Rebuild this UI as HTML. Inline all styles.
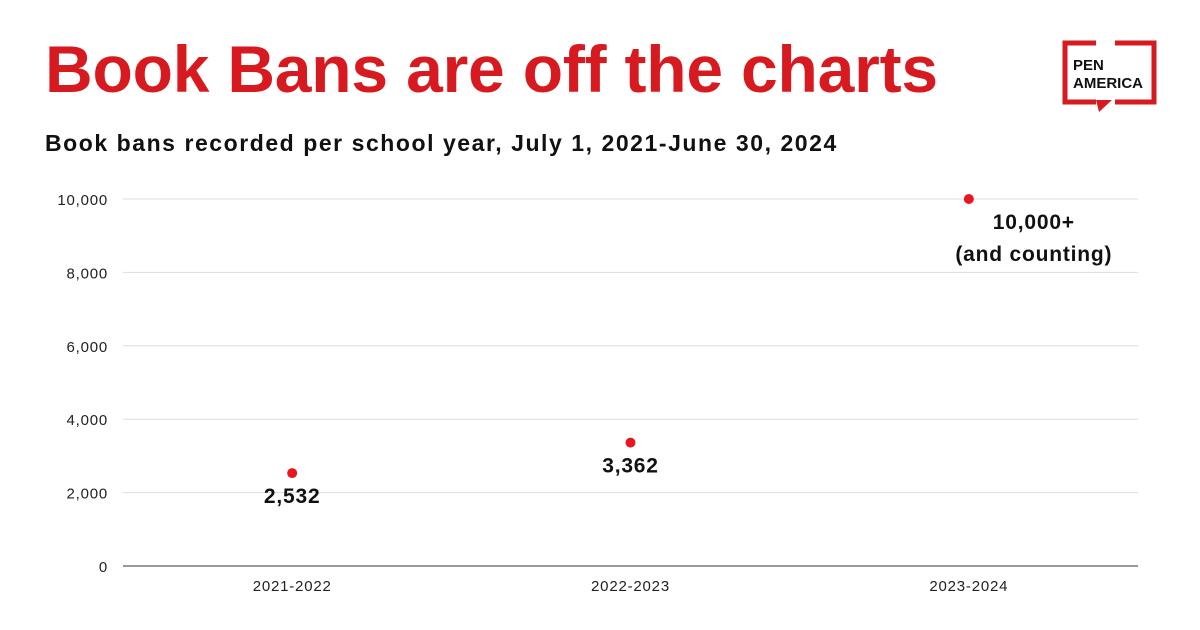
<!DOCTYPE html>
<html><head><meta charset="utf-8"><style>
body{margin:0;width:1200px;height:630px;background:#fff;font-family:"Liberation Sans",sans-serif;overflow:hidden;position:relative}
#title{position:absolute;left:45px;top:36px;font-size:66px;font-weight:bold;color:#d71920;letter-spacing:-0.2px;margin:0;line-height:1}
#sub{position:absolute;left:45px;top:130px;font-size:23px;font-weight:bold;color:#111;margin:0;letter-spacing:1.55px}
svg{position:absolute;left:0;top:0}
</style></head><body>
<h1 id="title">Book Bans are off the charts</h1>
<div id="sub">Book bans recorded per school year, July 1, 2021-June 30, 2024</div>
<svg width="1200" height="630" id="chart">
<g>
<path d="M1096 43 H1065 V102 H1096 M1115 102 H1154 V43 H1115" fill="none" stroke="#d71920" stroke-width="5"/>
<path d="M1096 100 L1099 112 L1112 100 Z" fill="#d71920"/>
<text x="1073" y="70" font-size="15" font-weight="bold" fill="#111">PEN</text>
<text x="1073" y="88" font-size="15" font-weight="bold" fill="#111">AMERICA</text>
</g>
</svg>
<script>
const categories=["2021-2022","2022-2023","2023-2024"];
const values=[2532,3362,10000];
const labels=["2,532","3,362","10,000+|(and counting)"];
const ticks=[0,2000,4000,6000,8000,10000];
const tickLabels=["0","2,000","4,000","6,000","8,000","10,000"];
const svg=document.getElementById('chart');const NS="http://www.w3.org/2000/svg";
const x0=123,x1=1138,yb=566,yt=199;
const y=v=>yb-(v/10000)*(yb-yt);
const bw=(x1-x0)/categories.length;
const x=i=>x0+bw*(i+0.5);
function mk(t,a){const e=document.createElementNS(NS,t);for(const k in a)e.setAttribute(k,a[k]);svg.appendChild(e);return e;}
ticks.forEach((t,i)=>{
const l=mk('line',{x1:x0,x2:x1,y1:y(t),y2:y(t),stroke:t===0?'#999':'#ddd','stroke-width':t===0?2:1});


const tx=mk('text',{x:108,y:y(t)+6,'text-anchor':'end','font-size':15,fill:'#222','letter-spacing':'0.8'});tx.textContent=tickLabels[i];


});
categories.forEach((c,i)=>{
const tx=mk('text',{x:x(i),y:591,'text-anchor':'middle','font-size':15,fill:'#222','letter-spacing':'0.8'});tx.textContent=c;


const p=mk('circle',{cx:x(i),cy:y(values[i]),r:5,fill:'#e8161e'});


const parts=labels[i].split('|');
parts.forEach((s,j)=>{
const last=i===categories.length-1;
const lt=mk('text',{x:last?x(i)+65:x(i),y:y(values[i])+30+j*32,'text-anchor':'middle','font-size':21,'font-weight':'bold',fill:'#111','letter-spacing':'0.8'});lt.textContent=s;


});
});
</script>
</body></html>
